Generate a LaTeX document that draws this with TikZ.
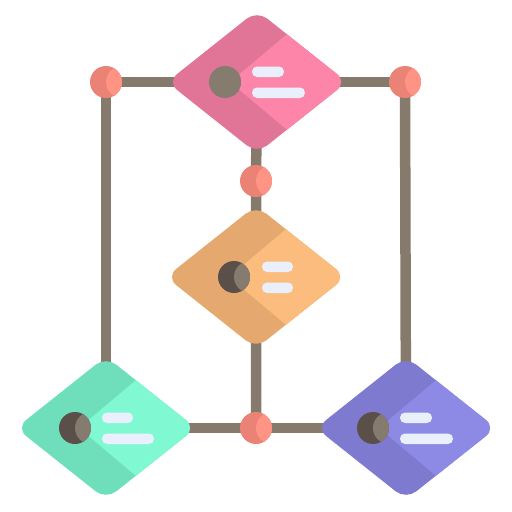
\documentclass[tikz,border=0pt]{standalone}
\usepackage{tikz}
\usetikzlibrary{shapes.geometric,backgrounds}

\definecolor{wire}{HTML}{857A6C}
\definecolor{taupe}{HTML}{857B6E}
\definecolor{ink}{HTML}{5A5049}
\definecolor{bar}{HTML}{E9EFFB}
\definecolor{jointD}{HTML}{EB8276}
\definecolor{jointL}{HTML}{FF9484}
\definecolor{pinkD}{HTML}{E07597}
\definecolor{pinkL}{HTML}{FC85A9}
\definecolor{orangeD}{HTML}{E5A96F}
\definecolor{orangeL}{HTML}{FBBC7D}
\definecolor{greenD}{HTML}{6FDFBB}
\definecolor{greenL}{HTML}{80F9D3}
\definecolor{purpleD}{HTML}{7D7ACF}
\definecolor{purpleL}{HTML}{8D8AE6}

% light half, avatar and two text bars of a card
\newcommand{\cardface}[6]{%
  \begin{scope}[shift={(path picture bounding box.center)},sharp corners]
    \fill[#1] (-27,0) -- (29,-47) -- (90,-98) -- (130,-98) -- (130,98) -- (90,98) -- (29,47) -- cycle;
    \fill[#2] (#3,0) circle (16pt);
    \begin{scope}
      \clip (#3,0) circle (16pt);
      \fill[taupe] (#3+16,0) circle (16pt);
    \end{scope}
    \fill[bar,rounded corners=5pt] (#4,-15.5) rectangle ++(#5,10.5);
    \fill[bar,rounded corners=5pt] (#4,5.5) rectangle ++(#6,10.5);
  \end{scope}}

\tikzset{
  card/.style={diamond, aspect=1.26, minimum width=180pt, minimum height=143pt,
    inner sep=0pt, outer sep=0pt, rounded corners=13pt, fill=#1},
  joint/.style={circle, minimum size=32pt, inner sep=0pt, fill=jointD,
    path picture={\fill[jointL] ([xshift=16pt]path picture bounding box.center) circle (16pt);}},
  wireline/.style={draw=wire, line width=10.5pt}
}

\begin{document}
\begin{tikzpicture}[x=1pt,y=-1pt]
    \useasboundingbox (0,0) rectangle (512,512);

    % Cards
    \node[card=pinkD, path picture={\cardface{pinkL}{taupe}{-32}{-5}{32}{53}}] (top) at (257,82) {};
    \node[card=orangeD, path picture={\cardface{orangeL}{ink}{-22}{6}{31}{31}}] (mid) at (256,277) {};
    \node[card=greenD, path picture={\cardface{greenL}{ink}{-31}{-4}{31}{52}}] (left) at (106,428) {};
    \node[card=purpleD, path picture={\cardface{purpleL}{ink}{-33}{-6}{32}{53}}] (right) at (406,428) {};

    % Joints
    \node[joint] (j1) at (106,82) {};
    \node[joint] (j2) at (405,82) {};
    \node[joint] (j3) at (256,181) {};
    \node[joint] (j4) at (256,428) {};

    % Wires
    \begin{scope}[on background layer]
        \draw[wireline] (j1.center) -- (j2.center);
        \draw[wireline] (j1.center) -- (left.center);
        \draw[wireline] (j2.center) -- (right.center);
        \draw[wireline] (top.center |- j1) -- (j3.center) -- (mid.center) -- (j4.center);
        \draw[wireline] (left.center) -- (j4.center) -- (right.center);
    \end{scope}
\end{tikzpicture}
\end{document}
